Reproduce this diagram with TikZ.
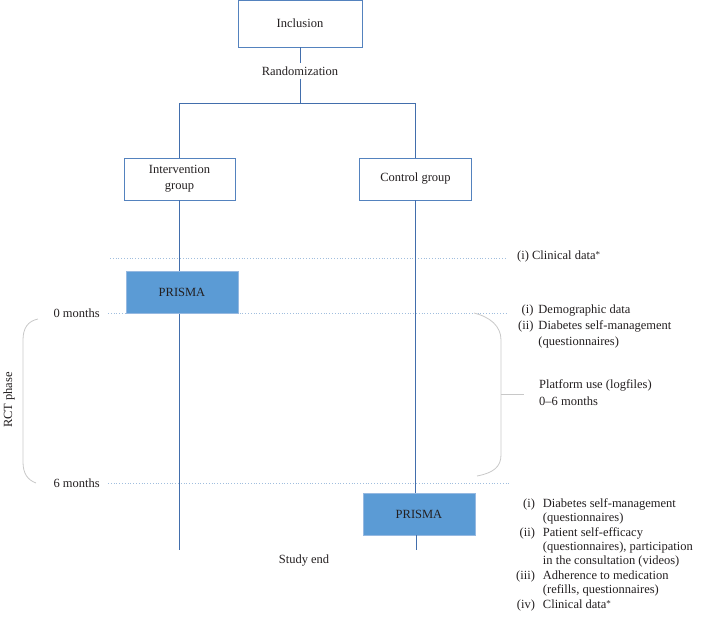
\documentclass[tikz,border=0pt]{standalone}
\usepackage{fontspec}
\setmainfont{Liberation Serif}
\usetikzlibrary{positioning}

\definecolor{ink}{RGB}{35,31,32}
\definecolor{boxline}{RGB}{84,130,190}
\definecolor{flowline}{RGB}{66,110,172}
\definecolor{prismafill}{RGB}{91,155,213}
\definecolor{prismaline}{RGB}{150,185,225}
\definecolor{dotline}{RGB}{160,190,222}
\definecolor{bracegray}{RGB}{200,200,200}

\newcommand{\note}{\raisebox{2pt}{\fontsize{9}{9}\selectfont *}}

\tikzset{
    stage/.style={draw=boxline, line width=0.9pt, fill=white, minimum height=42pt, align=center, inner sep=2pt},
    prisma/.style={draw=prismaline, fill=prismafill, line width=0.9pt, minimum width=112pt, minimum height=42pt},
    flow/.style={draw=flowline, line width=1pt},
    timeline/.style={draw=dotline, dotted, line width=0.8pt},
    brace/.style={draw=bracegray, line width=0.8pt},
}

\begin{document}
\begin{tikzpicture}[x=1pt, y=-1pt, font=\fontsize{12.5}{14.4}\selectfont, text=ink]
    \useasboundingbox (0,0) rectangle (702,622);

    \node[stage, minimum width=124pt, minimum height=47pt] (incl) at (300,23.5) {Inclusion};
    \node (rand) at (300,71) {Randomization};
    \coordinate (split) at (300,103);
    \coordinate (splitA) at (179.5,103);
    \coordinate (splitB) at (415.5,103);

    \node[stage, minimum width=111pt] (intv) at (179.5,179) {Intervention\\[2pt]group};
    \node[stage, minimum width=112pt] (ctrl) at (415.5,179) {Control group};

    \draw[flow] (incl) -- (rand);
    \draw[flow] (rand) -- (split);
    \draw[flow] (splitA) -- (splitB);
    \draw[flow] (splitA) -- (intv);
    \draw[flow] (splitB) -- (ctrl);

    \node[anchor=east, inner sep=2pt] (m0) at (102,313) {0 months};
    \node[anchor=east, inner sep=2pt] (m6) at (102,483) {6 months};
    \node[rotate=90] (rct) at (9,400) {RCT phase};

    \coordinate (clinA) at (110,258);
    \coordinate (clinB) at (507,258);
    \coordinate (zeroB) at (507,313);
    \coordinate (sixB) at (510,483);
    \draw[timeline] (clinA) -- (clinB);
    \draw[timeline] ([xshift=6pt]m0.east) -- (zeroB);
    \draw[timeline] ([xshift=6pt]m6.east) -- (sixB);

    \node[prisma] (prismaA) at (182,292.5) {PRISMA};
    \node[prisma] (prismaB) at (419,514) {PRISMA};

    \coordinate (endA) at (179.5,550);
    \coordinate (endB) at (416.5,550);
    \draw[flow] (intv.south) -- (intv.south |- prismaA.north);
    \draw[flow] (intv.south |- prismaA.south) -- (endA);
    \draw[flow] (ctrl.south) -- (ctrl.south |- prismaB.north);
    \draw[flow] (endB |- prismaB.south) -- (endB);

    \node (studyend) at (304,561) {Study end};

    \draw[brace] (38,319) .. controls (28,321) and (23,328) .. (23,340) -- (23,462)
        .. controls (23,474) and (28,480) .. (36,483);
    \draw[brace] (474,313) .. controls (490,317) and (501,326) .. (501,340) -- (501,455)
        .. controls (501,467) and (493,473) .. (477,476);
    \coordinate (tickA) at (501,394);
    \coordinate (tickB) at (524,394);
    \draw[brace] (tickA) -- (tickB);

    \node[anchor=west, inner sep=0pt] (clin) at (517,256) {(i) Clinical data\note};

    \node[anchor=north west, inner sep=0pt] (base) at (518,302.5)
        {\renewcommand\arraystretch{1.1}%
         \begin{tabular}{@{}r@{\hspace{5pt}}l@{}}
         (i) & Demographic data\\
         (ii) & Diabetes self-management\\
              & (questionnaires)
         \end{tabular}};

    \node[anchor=north west, inner sep=0pt, align=left] (logs) at (539,379.5)
        {Platform use (logfiles)\\[3pt]0--6 months};

    \node[anchor=north west, inner sep=0pt] (follow) at (516,497)
        {\begin{tabular}{@{}r@{\hspace{8pt}}l@{}}
         (i) & Diabetes self-management\\
             & (questionnaires)\\
         (ii) & Patient self-efficacy\\
              & (questionnaires), participation\\
              & in the consultation (videos)\\
         (iii) & Adherence to medication\\
               & (refills, questionnaires)\\
         (iv) & Clinical data\note
         \end{tabular}};
\end{tikzpicture}
\end{document}
